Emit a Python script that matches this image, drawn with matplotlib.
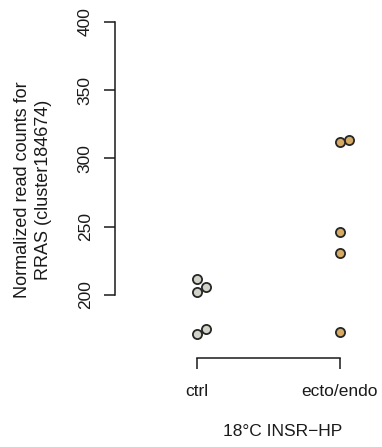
import numpy as np
import matplotlib
matplotlib.use('Agg')
import matplotlib.pyplot as plt

plt.rcParams['font.family'] = ['Liberation Sans', 'DejaVu Sans']

# data
groups = ['ctrl', 'ecto/endo']
ctrl_vals = [211.5, 205.9, 202.2, 175.2, 171.5]
ctrl_jit = [0, 1, 0, 1, 0]
ecto_vals = [313.5, 312.0, 245.8, 230.9, 173.0]
ecto_jit = [1, 0, 0, 0, 0]
yticks = [200, 250, 300, 350, 400]
ylab = 'Normalized read counts for\nRRAS (cluster184674)'
xlab = '18\u00b0C INSR\u2212HP'

W, H = 382, 447
fig = plt.figure(figsize=(W / 100, H / 100), dpi=100)
# axes box in pixels: left 115, right 370, top 22, bottom 358
ax = fig.add_axes([115 / W, (H - 358) / H, (370 - 115) / W, (358 - 22) / H])

step = 0.065
for i, (vals, jit, col) in enumerate([(ctrl_vals, ctrl_jit, '#d2d2c8'),
                                      (ecto_vals, ecto_jit, '#d6aa62')]):
    xs = [i + 1 + j * step for j in jit]
    ax.plot(xs, vals, 'o', ms=6.6, mfc=col, mec='#262626', mew=1.3,
            linestyle='none', clip_on=False)

ax.set_xlim(1 - 82 / 143, 2 + 30 / 143)
ax.set_ylim(200 - 63 / 1.36, 400)

for s in ['top', 'right']:
    ax.spines[s].set_visible(False)
ax.spines['left'].set_bounds(200, 400)
ax.spines['bottom'].set_bounds(1, 2)
for s in ['left', 'bottom']:
    ax.spines[s].set_linewidth(1.1)
    ax.spines[s].set_color('#1a1a1a')

ax.set_yticks(yticks)
ax.set_yticklabels([str(v) for v in yticks], rotation=90, va='center')
ax.set_xticks([1, 2])
ax.set_xticklabels(groups)
ax.tick_params(axis='both', length=8, width=1.1, color='#1a1a1a',
               labelsize=12.5, labelcolor='#1a1a1a')
ax.tick_params(axis='y', pad=8)
ax.tick_params(axis='x', pad=11)

ax.set_ylabel(ylab, fontsize=13, color='#1a1a1a', linespacing=1.3)
ax.yaxis.set_label_coords((33 - 115) / 255, 0.5)
ax.set_xlabel(xlab, fontsize=12.5, color='#1a1a1a')
ax.xaxis.set_label_coords((283 - 115) / 255, -(432 - 358) / 336)
ax.xaxis.label.set_va('center')
ax.yaxis.label.set_va('center')

fig.savefig('out.png', dpi=100)
